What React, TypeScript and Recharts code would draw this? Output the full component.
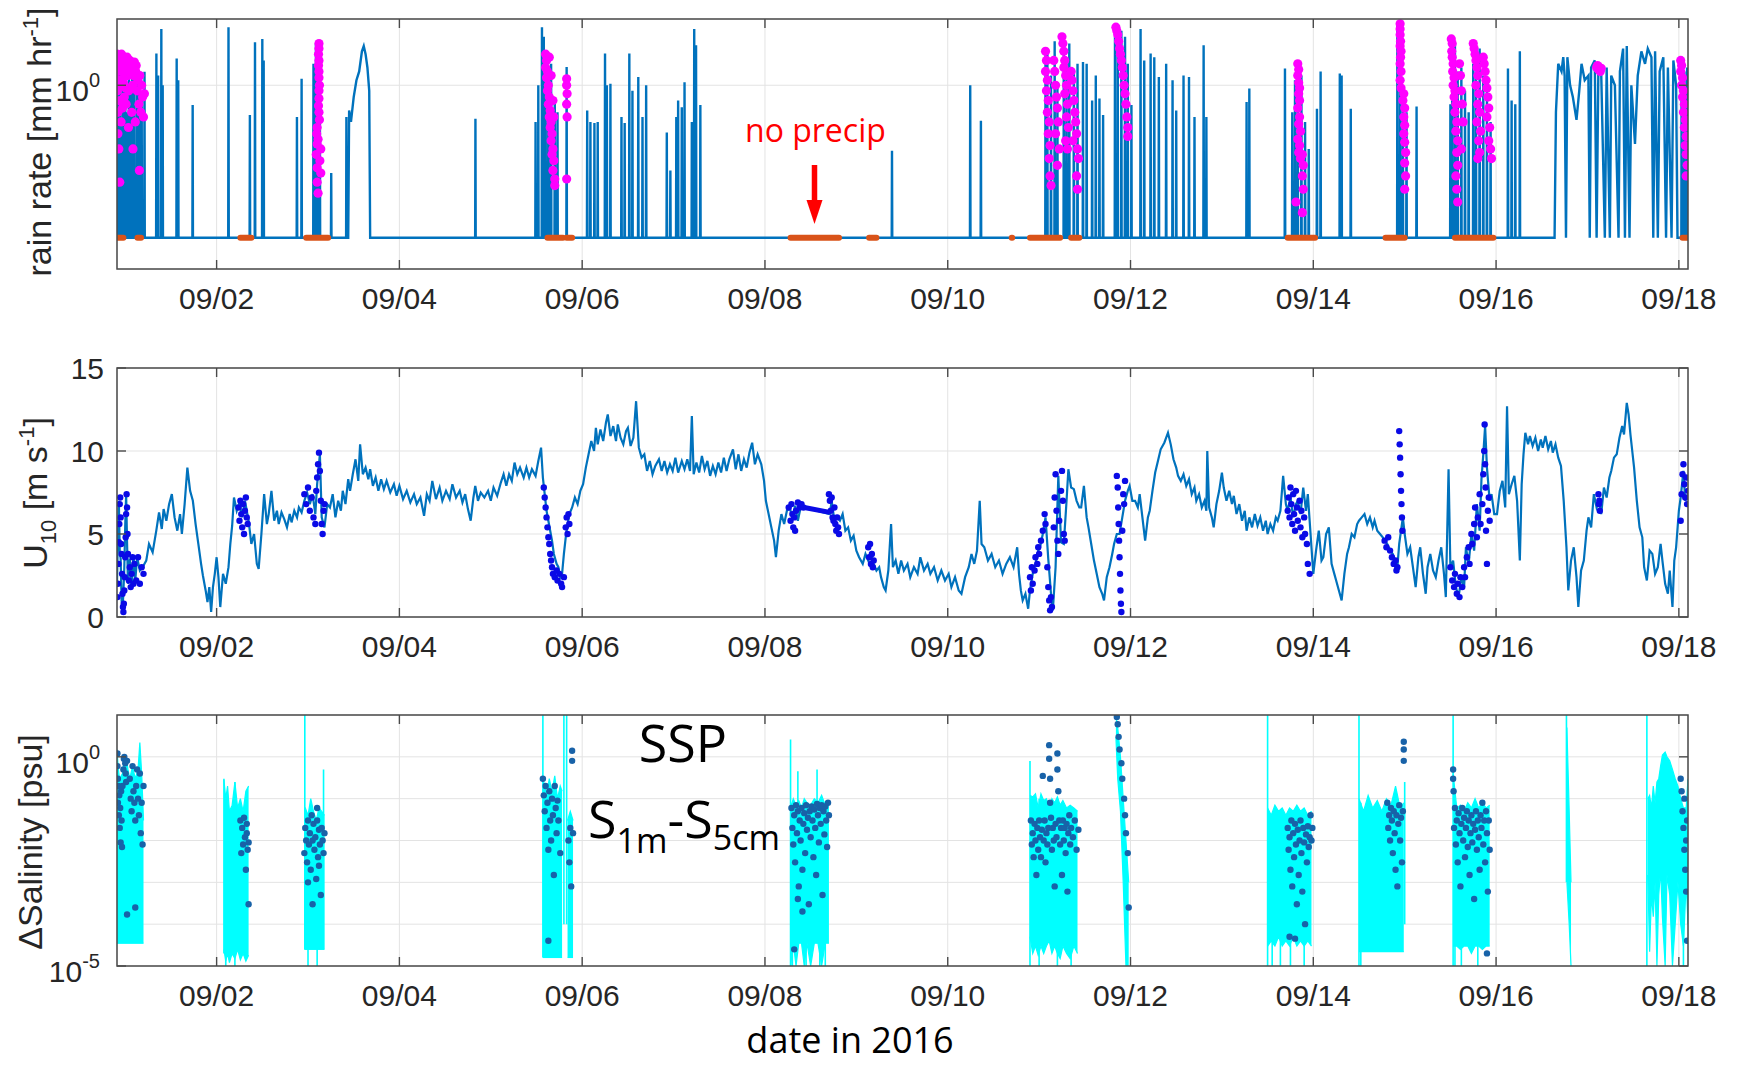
import React from 'react';
import { ComposedChart, Line, Scatter, Area, XAxis, YAxis, CartesianGrid } from 'recharts';

// page / panel geometry (px)
const W = 1737;
const H = 1066;
const PLOT_LEFT = 117;
const PLOT_RIGHT = 1688;
const X_AXIS_H = 50;

const rainGeom = { top: 0, plotTop: 19, plotBottom: 269 };
const windGeom = { top: 340, plotTop: 368, plotBottom: 617 };
const salGeom = { top: 690, plotTop: 715, plotBottom: 966 };

const AXIS = '#4a4a4a';
const GRID = '#e3e3e3';
const TEXT = '#262626';
const LINE_BLUE = '#0072BD';
const NOPRECIP_ORANGE = '#D95319';
const MAGENTA = '#FF00FF';
const DOT_BLUE = '#0a0ae6';
const CYAN = '#00FFFF';
const SAL_DOT = '#1862a8';
const FONT = '"Liberation Sans", Arial, Helvetica, sans-serif';
const NOTE_FONT = '"Open Sans", "Noto Sans", sans-serif';
const TICK_FS = 30;
const LABEL_FS = 34;

// time axis: days since 2016-09-01 00:00
const timeDomain = [-0.09, 17.1];
const dateTicks = [1, 3, 5, 7, 9, 11, 13, 15, 17];
const dateLabels = ['09/02', '09/04', '09/06', '09/08', '09/10', '09/12', '09/14', '09/16', '09/18'];

// ---------- panel 1: rain rate [mm/hr] ----------
const NO_RAIN = 0.056; // level the gauge reports when dry
const rainDomain = [0.031, 3.5];

// isolated rain spikes: [time, peak rate]
const rainSpikes: [number, number][] = [
  [-0.085, 1.8], [-0.075, 1.5], [-0.06, 1.7], [-0.045, 0.5], [-0.03, 1.6], [-0.015, 1.2], [0.0, 1.6],
  [0.016, 0.6], [0.04, 1.5], [0.06, 1.0], [0.075, 1.4], [0.1, 1.3], [0.13, 1.1], [0.154, 1.2], [0.18, 0.9],
  [0.211, 1.29], [0.341, 1.82], [0.36, 1.2], [0.395, 2.9], [0.41, 1.0], [0.563, 1.66], [0.58, 1.1],
  [0.738, 0.69], [1.13, 3.0], [1.364, 0.57], [1.42, 2.26], [1.5, 2.4], [1.515, 1.6], [1.879, 0.55],
  [1.93, 1.13], [2.06, 1.5], [2.087, 2.2], [2.11, 0.9], [2.13, 0.6], [2.254, 0.19], [2.42, 0.55],
  [3.832, 0.53],
  [4.49, 0.5], [4.52, 1.0], [4.56, 3.0], [4.58, 2.5], [4.6, 1.7], [4.63, 1.2], [4.66, 1.5], [4.7, 0.8],
  [4.73, 0.6], [4.83, 1.41],
  [5.055, 0.62], [5.09, 0.5], [5.134, 0.49], [5.17, 0.5], [5.25, 1.82], [5.27, 1.0], [5.309, 1.03],
  [5.43, 0.55], [5.465, 0.49], [5.516, 1.82], [5.55, 0.9], [5.614, 1.17], [5.66, 0.55], [5.7, 1.0],
  [5.926, 0.41], [5.965, 0.2], [6.03, 0.55], [6.05, 0.75], [6.09, 0.66], [6.12, 1.06], [6.2, 0.5],
  [6.226, 2.9], [6.246, 2.13], [6.293, 0.69],
  [8.39, 0.29], [9.246, 1.0], [9.363, 0.51],
  [10.07, 1.9], [10.09, 1.94], [10.13, 1.2], [10.17, 2.3], [10.2, 1.0], [10.27, 2.4], [10.3, 1.5],
  [10.33, 2.2], [10.38, 1.35], [10.42, 1.5], [10.48, 1.55], [10.52, 1.5], [10.58, 0.75], [10.62, 1.2],
  [10.66, 0.78], [10.7, 0.57],
  [10.83, 2.5], [10.86, 3.1], [10.9, 2.8], [10.94, 2.5], [10.97, 1.5], [11.01, 0.69], [11.11, 2.9],
  [11.15, 1.6], [11.22, 1.82], [11.26, 1.7], [11.31, 1.17], [11.39, 1.5], [11.46, 1.1], [11.5, 0.62],
  [11.58, 1.2], [11.64, 1.17], [11.7, 0.55], [11.8, 2.13], [11.83, 0.55],
  [12.27, 0.73], [12.3, 0.94], [12.69, 1.37], [12.77, 0.6], [12.8, 1.1], [12.83, 1.3], [12.87, 1.2],
  [12.91, 0.5], [12.95, 0.3], [13.04, 0.64], [13.08, 1.3], [13.29, 1.25], [13.31, 1.2], [13.41, 0.64],
  [13.92, 3.2], [13.95, 2.0], [13.98, 1.0], [14.02, 0.6], [14.13, 0.67],
  [14.5, 0.7], [14.52, 1.2], [14.55, 2.2], [14.58, 1.3], [14.62, 1.4], [14.66, 0.9], [14.7, 0.6],
  [14.75, 1.5], [14.78, 1.3], [14.82, 2.0], [14.86, 1.2], [14.9, 0.9], [14.94, 0.5],
  [15.13, 1.37], [15.17, 0.75], [15.21, 0.7], [15.26, 1.9],
  [17.03, 1.5], [17.06, 1.3], [17.09, 1.4],
];

// longer rain events read point by point
const rainHump: [number, number][] = [
  [2.44, NO_RAIN], [2.45, 0.62], [2.47, 0.5], [2.5, 0.8], [2.53, 1.1], [2.56, 1.3], [2.59, 1.9],
  [2.61, 2.1], [2.63, 1.8], [2.65, 1.4], [2.67, 0.9], [2.68, NO_RAIN],
];
const rainLate: [number, number][] = [
  [15.64, NO_RAIN], [15.655, 0.6], [15.68, 1.5], [15.716, 1.3], [15.735, 1.7], [15.75, 1.2], [15.765, NO_RAIN],
  [15.78, 1.7], [15.81, 1.0], [15.84, 0.8], [15.88, 0.52], [15.91, 0.9], [15.935, 1.5], [15.97, 1.1],
  [16.01, 1.2], [16.025, NO_RAIN], [16.04, 1.4], [16.08, 1.6], [16.1, NO_RAIN], [16.12, 1.5], [16.15, 1.3],
  [16.19, NO_RAIN], [16.21, 1.4], [16.245, NO_RAIN], [16.26, 1.2], [16.3, 1.0], [16.34, NO_RAIN],
  [16.355, 1.3], [16.39, 2.0], [16.41, NO_RAIN], [16.43, 2.1], [16.46, NO_RAIN], [16.48, 1.0], [16.52, 0.33],
  [16.55, 1.2], [16.59, 1.9], [16.63, 1.5], [16.66, 2.0], [16.7, 1.7], [16.72, NO_RAIN], [16.74, 1.9],
  [16.77, NO_RAIN], [16.79, 1.3], [16.83, 1.7], [16.86, NO_RAIN], [16.88, 1.4], [16.92, NO_RAIN],
  [16.94, 1.6], [16.97, 1.0], [16.985, NO_RAIN],
];

// disdrometer rain (magenta dots)
const precipDots: [number, number][] = [
  [-0.09, 1.8], [-0.085, 1.3], [-0.085, 0.9], [-0.08, 0.6], [-0.08, 0.4], [-0.075, 1.6], [-0.07, 1.1],
  [-0.07, 0.3], [-0.065, 1.75], [-0.06, 0.75], [-0.06, 0.16], [-0.055, 1.4], [-0.05, 1.0], [-0.045, 0.5],
  [-0.04, 1.8], [-0.035, 1.3], [-0.03, 0.65], [-0.025, 1.5], [-0.02, 1.05], [-0.015, 1.7], [-0.01, 0.8],
  [-0.005, 1.2], [0.0, 1.6], [0.005, 0.95], [0.01, 0.7], [0.015, 1.4], [0.02, 1.7], [0.03, 1.2],
  [0.035, 0.45], [0.04, 0.9], [0.05, 1.6], [0.06, 1.3], [0.07, 0.6], [0.075, 1.5], [0.08, 1.0], [0.085, 0.3],
  [0.09, 1.2], [0.1, 1.55], [0.11, 0.5], [0.115, 1.3], [0.12, 1.45], [0.13, 0.9], [0.14, 1.1], [0.15, 0.7],
  [0.155, 0.2], [0.16, 1.2], [0.17, 0.6], [0.18, 1.0], [0.19, 0.8], [0.2, 0.55], [0.21, 0.85],
  [2.12, 2.2], [2.12, 2.0], [2.115, 1.8], [2.12, 1.6], [2.115, 1.45], [2.12, 1.3], [2.12, 1.15],
  [2.125, 1.0], [2.12, 0.9], [2.12, 0.78], [2.115, 0.68], [2.12, 0.6], [2.125, 0.52], [2.1, 0.45],
  [2.095, 0.4], [2.11, 0.36], [2.1, 0.33], [2.14, 0.3], [2.09, 0.27], [2.13, 0.24], [2.1, 0.21],
  [2.14, 0.19], [2.1, 0.16], [2.11, 0.13],
  [4.6, 1.8], [4.61, 1.6], [4.6, 1.4], [4.62, 1.3], [4.61, 1.15], [4.63, 1.0], [4.62, 0.9], [4.64, 0.8],
  [4.63, 0.7], [4.65, 0.62], [4.64, 0.55], [4.66, 0.5], [4.65, 0.45], [4.67, 0.4], [4.66, 0.35],
  [4.68, 0.3], [4.67, 0.27], [4.69, 0.24], [4.68, 0.2], [4.7, 0.17], [4.7, 0.15], [4.64, 1.7], [4.66, 1.2],
  [4.68, 0.75], [4.69, 0.55], [4.83, 1.13], [4.83, 1.0], [4.835, 0.85], [4.83, 0.7], [4.835, 0.55],
  [4.83, 0.17],
  [10.07, 1.9], [10.08, 1.6], [10.07, 1.3], [10.09, 1.1], [10.08, 0.9], [10.1, 0.75], [10.09, 0.6],
  [10.11, 0.5], [10.1, 0.4], [10.12, 0.32], [10.11, 0.25], [10.12, 0.18], [10.13, 0.15],
  [10.16, 1.6], [10.17, 1.3], [10.18, 1.0], [10.19, 0.8], [10.2, 0.65], [10.21, 0.5], [10.18, 0.4],
  [10.22, 0.3], [10.2, 0.22],
  [10.25, 2.5], [10.26, 2.2], [10.27, 1.9], [10.28, 1.6], [10.27, 1.4], [10.29, 1.2], [10.3, 1.0],
  [10.28, 0.85], [10.31, 0.7], [10.3, 0.55], [10.32, 0.45], [10.29, 0.35], [10.31, 0.3],
  [10.35, 1.3], [10.36, 1.1], [10.37, 0.9], [10.38, 0.75], [10.39, 0.6], [10.4, 0.5], [10.41, 0.4],
  [10.42, 0.3], [10.43, 0.25], [10.41, 0.18], [10.42, 0.14], [10.37, 0.35],
  [10.84, 3.0], [10.85, 2.8], [10.86, 2.6], [10.87, 2.3], [10.88, 2.0], [10.89, 1.8], [10.9, 1.6],
  [10.91, 1.4], [10.92, 1.2], [10.93, 1.0], [10.94, 0.85], [10.95, 0.7], [10.96, 0.55], [10.97, 0.45],
  [10.97, 0.38],
  [12.83, 1.5], [12.84, 1.35], [12.83, 1.2], [12.84, 1.05], [12.85, 0.95], [12.84, 0.85], [12.85, 0.75],
  [12.83, 0.65], [12.85, 0.55], [12.84, 0.48], [12.86, 0.42], [12.83, 0.36], [12.85, 0.32], [12.84, 0.28],
  [12.86, 0.25], [12.81, 0.11], [12.88, 0.27], [12.89, 0.22], [12.88, 0.18], [12.89, 0.14], [12.88, 0.09],
  [13.95, 3.2], [13.95, 2.9], [13.95, 2.6], [13.955, 2.3], [13.95, 2.1], [13.96, 1.9], [13.955, 1.7],
  [13.95, 1.5], [13.96, 1.3], [13.95, 1.1], [13.96, 0.95], [13.99, 0.85], [13.98, 0.75], [14.0, 0.65],
  [13.99, 0.55], [14.0, 0.47], [13.99, 0.4], [14.0, 0.34], [14.01, 0.28], [14.0, 0.23], [14.01, 0.18],
  [14.0, 0.14],
  [14.51, 2.4], [14.52, 2.2], [14.515, 1.9], [14.52, 1.7], [14.53, 1.5], [14.525, 1.3], [14.54, 1.15],
  [14.53, 1.0], [14.55, 0.9], [14.54, 0.8], [14.56, 0.7], [14.55, 0.6], [14.57, 0.5], [14.56, 0.42],
  [14.58, 0.35], [14.57, 0.28], [14.58, 0.22], [14.56, 0.18], [14.57, 0.14], [14.58, 0.11], [14.6, 1.5],
  [14.61, 1.2], [14.62, 0.9], [14.63, 0.7], [14.64, 0.5], [14.62, 0.3],
  [14.75, 2.2], [14.76, 2.0], [14.77, 1.8], [14.78, 1.6], [14.79, 1.4], [14.8, 1.2], [14.78, 1.0],
  [14.81, 0.85], [14.8, 0.7], [14.82, 0.6], [14.79, 0.5], [14.83, 0.42], [14.81, 0.35], [14.82, 0.28],
  [14.8, 0.25], [14.86, 1.7], [14.87, 1.5], [14.88, 1.3], [14.89, 1.1], [14.9, 0.95], [14.91, 0.8],
  [14.92, 0.65], [14.9, 0.55], [14.93, 0.45], [14.92, 0.35], [14.94, 0.3], [14.95, 0.25],
  [16.1, 1.4], [16.11, 1.45], [16.12, 1.35], [16.13, 1.4], [16.14, 1.3], [16.15, 1.38],
  [17.02, 1.6], [17.03, 1.45], [17.02, 1.3], [17.04, 1.15], [17.03, 1.0], [17.05, 0.9], [17.04, 0.8],
  [17.06, 0.7], [17.05, 0.6], [17.07, 0.52], [17.06, 0.45], [17.08, 0.38], [17.07, 0.32], [17.08, 0.27],
  [17.09, 0.22], [17.08, 0.18],
];

// gauge on, no precipitation (orange): [start, end]
const noPrecipSpans: [number, number][] = [
  [-0.09, -0.02], [0.134, 0.173], [1.26, 1.38], [1.98, 2.22], [4.62, 4.79], [4.83, 4.89], [7.28, 7.81],
  [8.14, 8.22], [9.7, 9.705], [9.9, 10.23], [10.35, 10.44], [12.72, 13.02], [13.79, 14.0], [14.55, 14.97],
  [17.04, 17.1],
];

// ---------- panel 2: U10 [m/s] ----------
const windLine: [number, number][] = [
  [-0.09, 2.0], [-0.08, 5.0], [-0.07, 7.0], [-0.06, 4.0], [-0.05, 3.5], [-0.04, 1.0], [-0.03, 0.4],
  [-0.02, 1.5], [-0.01, 3.0], [0.0, 5.5], [0.01, 7.4], [0.02, 4.5], [0.03, 2.0], [0.05, 3.5], [0.07, 1.8],
  [0.09, 3.7], [0.11, 2.2], [0.13, 3.6], [0.16, 2.8], [0.19, 3.0], [0.23, 3.4], [0.26, 4.4], [0.3, 3.9],
  [0.34, 5.2], [0.37, 6.3], [0.4, 5.3], [0.42, 6.5], [0.45, 5.8], [0.48, 6.8], [0.51, 7.4], [0.54, 6.0],
  [0.57, 5.2], [0.6, 6.2], [0.62, 5.0], [0.65, 6.8], [0.68, 9.0], [0.71, 7.6], [0.74, 7.0], [0.77, 5.6],
  [0.8, 4.4], [0.83, 3.2], [0.85, 2.5], [0.88, 1.6], [0.9, 0.9], [0.92, 1.8], [0.94, 0.3], [0.96, 1.8],
  [0.98, 2.6], [1.0, 3.6], [1.02, 2.4], [1.04, 0.6], [1.07, 2.6], [1.1, 2.0], [1.13, 3.0], [1.15, 4.4],
  [1.17, 5.5], [1.19, 7.2], [1.22, 6.4], [1.25, 6.9], [1.28, 6.0], [1.31, 7.0], [1.35, 5.8], [1.38, 4.4],
  [1.41, 5.0], [1.44, 3.2], [1.46, 2.9], [1.49, 5.0], [1.52, 7.4], [1.55, 5.6], [1.57, 6.2], [1.6, 7.6],
  [1.63, 5.8], [1.66, 6.4], [1.68, 5.6], [1.71, 6.3], [1.74, 5.9], [1.77, 5.4], [1.8, 6.2], [1.82, 5.7],
  [1.85, 6.4], [1.88, 6.0], [1.9, 6.6], [1.93, 6.3], [1.96, 7.0], [1.99, 7.5], [2.02, 6.8], [2.05, 7.4],
  [2.08, 6.2], [2.1, 8.0], [2.13, 9.8], [2.15, 6.0], [2.18, 5.4], [2.21, 6.8], [2.24, 6.6], [2.27, 7.4],
  [2.3, 6.0], [2.33, 7.0], [2.36, 6.4], [2.38, 7.6], [2.41, 6.8], [2.44, 8.3], [2.46, 7.6], [2.49, 8.6],
  [2.52, 9.5], [2.55, 8.2], [2.57, 10.4], [2.6, 8.6], [2.63, 9.0], [2.66, 8.3], [2.68, 8.9], [2.71, 7.9],
  [2.74, 8.4], [2.77, 7.6], [2.8, 8.3], [2.83, 7.7], [2.86, 8.2], [2.9, 7.5], [2.94, 8.0], [2.97, 7.3],
  [3.0, 7.9], [3.04, 7.1], [3.08, 7.6], [3.12, 6.9], [3.16, 7.4], [3.19, 6.8], [3.23, 7.2], [3.27, 6.1],
  [3.3, 7.4], [3.33, 7.0], [3.36, 8.2], [3.4, 7.1], [3.44, 7.8], [3.47, 7.0], [3.51, 7.6], [3.55, 7.1],
  [3.58, 8.0], [3.62, 7.2], [3.66, 7.6], [3.69, 6.9], [3.72, 7.4], [3.75, 6.5], [3.78, 5.8], [3.81, 7.2],
  [3.83, 7.9], [3.86, 7.0], [3.89, 7.5], [3.93, 7.2], [3.97, 7.6], [4.0, 7.0], [4.03, 7.8], [4.07, 7.3],
  [4.11, 8.1], [4.14, 8.6], [4.17, 7.9], [4.2, 8.6], [4.23, 8.2], [4.26, 9.3], [4.29, 8.6], [4.32, 9.0],
  [4.36, 8.4], [4.39, 9.0], [4.42, 8.4], [4.45, 8.9], [4.49, 8.5], [4.52, 9.4], [4.55, 10.2], [4.57, 8.4],
  [4.59, 7.4], [4.61, 6.4], [4.63, 5.8], [4.65, 5.2], [4.67, 4.6], [4.69, 3.8], [4.72, 3.2], [4.74, 3.0],
  [4.76, 2.4], [4.78, 2.6], [4.8, 3.8], [4.82, 4.8], [4.84, 5.6], [4.86, 6.2], [4.89, 6.6], [4.92, 7.2],
  [4.95, 6.8], [4.98, 7.6], [5.01, 8.0], [5.04, 9.0], [5.07, 9.8], [5.1, 10.6], [5.13, 10.0], [5.15, 11.4],
  [5.17, 10.4], [5.2, 11.3], [5.23, 10.6], [5.26, 11.7], [5.28, 12.2], [5.31, 10.9], [5.34, 11.5],
  [5.37, 10.6], [5.39, 11.6], [5.42, 10.8], [5.45, 10.4], [5.48, 11.2], [5.5, 11.4], [5.53, 10.3],
  [5.56, 10.8], [5.59, 13.0], [5.62, 10.2], [5.65, 9.6], [5.68, 9.8], [5.71, 8.8], [5.74, 9.4], [5.77, 8.6],
  [5.8, 9.1], [5.84, 9.5], [5.87, 8.8], [5.9, 9.4], [5.93, 8.7], [5.96, 9.2], [5.99, 8.8], [6.02, 9.6],
  [6.05, 8.7], [6.09, 9.4], [6.12, 8.9], [6.15, 9.5], [6.18, 8.8], [6.2, 12.1], [6.22, 8.6], [6.25, 9.3],
  [6.28, 8.7], [6.31, 9.7], [6.34, 8.9], [6.37, 9.4], [6.4, 8.5], [6.43, 9.1], [6.46, 8.6], [6.49, 9.3],
  [6.52, 8.7], [6.55, 9.6], [6.58, 8.8], [6.61, 9.5], [6.65, 10.1], [6.68, 8.9], [6.71, 9.8], [6.74, 8.8],
  [6.77, 9.5], [6.8, 9.0], [6.83, 9.9], [6.86, 10.5], [6.89, 9.2], [6.92, 9.8], [6.96, 9.2], [6.99, 8.2],
  [7.01, 7.0], [7.04, 6.2], [7.07, 5.4], [7.1, 4.6], [7.12, 3.6], [7.15, 5.2], [7.18, 6.2], [7.21, 5.6],
  [7.24, 6.4], [7.27, 6.6], [7.3, 6.0], [7.33, 6.7], [7.36, 5.8], [7.39, 6.6], [7.43, 6.6], [7.71, 6.2],
  [7.73, 7.0], [7.76, 5.8], [7.79, 6.0], [7.82, 5.8], [7.85, 6.2], [7.88, 5.2], [7.91, 5.4], [7.94, 4.6],
  [7.97, 4.9], [8.0, 4.0], [8.03, 3.6], [8.07, 3.2], [8.1, 3.8], [8.13, 3.4], [8.16, 3.8], [8.19, 3.2],
  [8.22, 2.8], [8.25, 3.0], [8.27, 2.4], [8.3, 1.8], [8.32, 1.6], [8.35, 2.8], [8.38, 5.6], [8.4, 3.0],
  [8.43, 3.4], [8.46, 2.6], [8.49, 3.4], [8.52, 2.8], [8.56, 3.2], [8.59, 2.4], [8.63, 3.0], [8.67, 2.6],
  [8.7, 3.6], [8.74, 2.8], [8.78, 3.2], [8.81, 2.6], [8.85, 3.0], [8.89, 2.2], [8.93, 2.8], [8.97, 2.2],
  [9.01, 2.6], [9.04, 1.8], [9.08, 2.4], [9.12, 1.6], [9.15, 1.4], [9.19, 2.4], [9.23, 3.0], [9.26, 3.8],
  [9.29, 3.2], [9.32, 4.0], [9.35, 7.0], [9.37, 4.4], [9.4, 4.2], [9.44, 3.4], [9.48, 3.8], [9.52, 3.0],
  [9.56, 3.4], [9.6, 2.6], [9.64, 3.2], [9.68, 3.6], [9.72, 3.0], [9.76, 4.2], [9.78, 2.6], [9.8, 1.6],
  [9.82, 1.0], [9.85, 1.4], [9.88, 0.5], [9.9, 1.6], [9.93, 2.6], [9.96, 3.2], [9.99, 4.0], [10.01, 4.2],
  [10.04, 5.0], [10.07, 6.0], [10.1, 3.5], [10.13, 1.4], [10.15, 0.4], [10.18, 3.0], [10.21, 8.5],
  [10.24, 4.5], [10.27, 4.4], [10.3, 7.0], [10.32, 8.9], [10.35, 7.8], [10.38, 7.7], [10.41, 7.0],
  [10.44, 6.6], [10.46, 6.6], [10.49, 7.9], [10.52, 6.0], [10.54, 5.4], [10.57, 4.4], [10.6, 3.4],
  [10.63, 2.6], [10.66, 1.8], [10.69, 1.4], [10.71, 1.0], [10.74, 2.4], [10.77, 3.0], [10.8, 3.8],
  [10.82, 4.4], [10.85, 5.0], [10.88, 5.0], [10.91, 6.0], [10.94, 7.0], [10.97, 7.6], [10.99, 7.9],
  [11.02, 7.0], [11.05, 7.0], [11.08, 6.6], [11.1, 7.4], [11.13, 6.0], [11.16, 4.6], [11.19, 6.0],
  [11.21, 6.4], [11.24, 7.6], [11.27, 8.7], [11.3, 9.4], [11.33, 10.1], [11.37, 10.5], [11.41, 11.1],
  [11.44, 10.4], [11.47, 9.5], [11.5, 9.0], [11.52, 8.5], [11.55, 8.2], [11.58, 8.6], [11.61, 7.9],
  [11.64, 8.3], [11.67, 7.4], [11.7, 7.8], [11.72, 7.0], [11.75, 7.4], [11.78, 6.6], [11.81, 7.0],
  [11.83, 6.4], [11.84, 10.0], [11.86, 6.6], [11.89, 6.0], [11.91, 5.4], [11.94, 6.8], [11.97, 7.6],
  [12.0, 8.7], [12.02, 7.8], [12.05, 7.0], [12.08, 7.6], [12.11, 6.8], [12.13, 7.3], [12.16, 6.2],
  [12.19, 6.8], [12.22, 5.8], [12.25, 6.4], [12.27, 5.2], [12.3, 6.0], [12.33, 5.4], [12.36, 6.2],
  [12.39, 5.5], [12.42, 6.0], [12.45, 5.2], [12.48, 5.8], [12.5, 5.0], [12.53, 5.6], [12.56, 5.2],
  [12.59, 6.0], [12.61, 5.8], [12.64, 6.4], [12.67, 8.5], [12.7, 6.8], [12.72, 6.4], [12.75, 7.2],
  [12.78, 6.0], [12.81, 6.8], [12.83, 7.0], [12.86, 6.2], [12.89, 7.8], [12.92, 6.4], [12.94, 7.4],
  [12.97, 5.0], [13.0, 2.6], [13.03, 4.0], [13.06, 5.2], [13.09, 3.4], [13.11, 3.6], [13.14, 5.0],
  [13.17, 5.4], [13.2, 3.2], [13.23, 2.6], [13.25, 2.2], [13.28, 1.6], [13.31, 1.0], [13.34, 2.6],
  [13.37, 3.8], [13.39, 4.2], [13.42, 5.0], [13.45, 4.8], [13.48, 5.6], [13.5, 5.8], [13.53, 6.0],
  [13.56, 6.2], [13.59, 5.6], [13.62, 6.0], [13.65, 5.4], [13.67, 5.8], [13.7, 5.2], [13.73, 5.0],
  [13.76, 4.8], [13.78, 4.6], [13.81, 4.4], [13.84, 4.0], [13.87, 3.8], [13.9, 3.2], [13.92, 3.0],
  [13.94, 4.4], [13.96, 5.2], [13.98, 6.0], [14.0, 5.0], [14.03, 3.8], [14.06, 4.2], [14.09, 3.0],
  [14.12, 1.8], [14.15, 3.6], [14.17, 4.2], [14.2, 2.6], [14.23, 1.4], [14.25, 3.0], [14.28, 3.8],
  [14.31, 2.8], [14.34, 2.4], [14.37, 3.4], [14.4, 4.2], [14.43, 2.6], [14.45, 1.2], [14.48, 8.9],
  [14.5, 3.0], [14.53, 3.4], [14.56, 1.8], [14.59, 1.2], [14.62, 2.4], [14.65, 1.8], [14.67, 4.2],
  [14.7, 3.2], [14.73, 5.0], [14.76, 4.0], [14.79, 6.8], [14.82, 5.2], [14.84, 8.3], [14.86, 9.8],
  [14.88, 11.5], [14.9, 9.0], [14.93, 7.0], [14.95, 7.4], [14.98, 6.2], [15.01, 6.2], [15.04, 7.6],
  [15.07, 8.2], [15.1, 6.6], [15.12, 12.7], [15.14, 7.4], [15.17, 8.0], [15.2, 8.5], [15.23, 7.0],
  [15.26, 3.4], [15.28, 8.0], [15.3, 9.8], [15.32, 11.1], [15.35, 10.4], [15.37, 10.9], [15.4, 10.3],
  [15.43, 10.8], [15.46, 10.0], [15.49, 10.7], [15.51, 10.2], [15.54, 10.9], [15.57, 10.1], [15.6, 10.6],
  [15.62, 9.9], [15.65, 10.4], [15.68, 9.6], [15.71, 9.1], [15.74, 7.0], [15.77, 4.2], [15.79, 1.6],
  [15.82, 3.4], [15.85, 4.2], [15.88, 2.4], [15.9, 0.6], [15.93, 2.8], [15.96, 3.4], [15.99, 5.2],
  [16.01, 6.0], [16.04, 5.4], [16.07, 7.4], [16.1, 6.6], [16.13, 7.0], [16.15, 6.2], [16.18, 7.8],
  [16.21, 7.2], [16.24, 8.4], [16.26, 8.8], [16.29, 9.6], [16.32, 9.8], [16.35, 10.8], [16.38, 11.5],
  [16.4, 11.0], [16.43, 12.9], [16.45, 12.2], [16.47, 11.0], [16.49, 10.0], [16.51, 9.0], [16.54, 7.0],
  [16.57, 5.4], [16.6, 4.8], [16.62, 3.0], [16.65, 2.2], [16.68, 4.0], [16.71, 3.8], [16.74, 2.6],
  [16.77, 3.0], [16.8, 4.4], [16.82, 3.4], [16.85, 2.0], [16.88, 1.4], [16.9, 2.8], [16.93, 0.6],
  [16.95, 3.4], [16.97, 4.2], [17.0, 6.4], [17.02, 7.2], [17.05, 8.8], [17.07, 7.0], [17.1, 7.4],
];

// wind during SSP profiles (blue dots)
const windDots: [number, number][] = [
  [-0.085, 1.2], [-0.08, 2.0], [-0.075, 3.2], [-0.07, 4.5], [-0.065, 5.6], [-0.06, 6.8], [-0.055, 7.2],
  [-0.05, 6.0], [-0.045, 4.4], [-0.04, 3.8], [-0.035, 2.6], [-0.03, 1.4], [-0.025, 0.6], [-0.02, 0.3],
  [-0.015, 0.8], [-0.01, 1.6], [-0.005, 2.4], [0.0, 3.6], [0.005, 4.8], [0.01, 6.2], [0.015, 7.4],
  [0.02, 6.6], [0.025, 5.0], [0.03, 3.8], [0.04, 2.2], [0.05, 3.0], [0.06, 1.8], [0.07, 2.6], [0.08, 3.6],
  [0.09, 2.0], [0.1, 3.2], [0.12, 2.2], [0.14, 3.6], [0.16, 2.0], [0.18, 3.0], [0.2, 2.6],
  [1.24, 6.6], [1.25, 5.8], [1.26, 7.0], [1.27, 6.2], [1.28, 5.4], [1.29, 6.8], [1.3, 5.0], [1.31, 6.4],
  [1.32, 7.2], [1.33, 6.0], [1.34, 5.6],
  [1.96, 7.4], [1.98, 6.8], [2.0, 7.8], [2.02, 6.4], [2.04, 7.2], [2.06, 6.0], [2.08, 5.6], [2.09, 7.6],
  [2.1, 8.4], [2.11, 9.2], [2.12, 9.9], [2.13, 8.8], [2.14, 7.0], [2.15, 5.6], [2.16, 5.0], [2.17, 6.4],
  [2.18, 6.8],
  [4.58, 7.8], [4.59, 7.2], [4.6, 6.6], [4.61, 6.0], [4.62, 5.4], [4.63, 4.8], [4.64, 4.4], [4.65, 3.8],
  [4.66, 3.4], [4.67, 3.0], [4.68, 2.6], [4.7, 2.4], [4.72, 2.8], [4.73, 2.2], [4.75, 2.6], [4.77, 2.0],
  [4.78, 1.8], [4.8, 2.4], [4.82, 5.4], [4.83, 6.0], [4.84, 5.0], [4.85, 6.2], [4.86, 5.6],
  [7.26, 6.6], [7.28, 5.8], [7.29, 6.8], [7.3, 6.2], [7.31, 5.4], [7.32, 6.0], [7.33, 5.2], [7.34, 6.4],
  [7.36, 6.9], [7.38, 6.6], [7.4, 6.8], [7.42, 6.6],
  [7.7, 7.4], [7.71, 7.0], [7.72, 6.4], [7.73, 7.2], [7.74, 6.0], [7.75, 5.8], [7.76, 6.6], [7.77, 5.6],
  [7.78, 5.2], [7.79, 6.0], [7.8, 5.4], [7.81, 5.0],
  [8.13, 4.2], [8.14, 3.6], [8.15, 4.4], [8.16, 3.2], [8.17, 3.8], [8.18, 3.0], [8.19, 3.4],
  [9.9, 2.4], [9.91, 1.6], [9.92, 3.0], [9.93, 2.0], [9.95, 2.8], [9.96, 3.6], [9.98, 3.2], [9.99, 4.2],
  [10.0, 3.8], [10.02, 4.6], [10.04, 5.2], [10.06, 6.2], [10.07, 5.6], [10.09, 3.0], [10.1, 1.8],
  [10.11, 1.0], [10.12, 0.4], [10.13, 1.2], [10.14, 0.6], [10.16, 5.4], [10.17, 7.2], [10.18, 8.6],
  [10.19, 6.4], [10.2, 4.6], [10.21, 3.8], [10.22, 5.8], [10.24, 7.6], [10.25, 8.8], [10.26, 7.0],
  [10.27, 5.0], [10.28, 4.6],
  [10.85, 8.5], [10.86, 7.8], [10.865, 6.6], [10.87, 5.6], [10.875, 4.6], [10.88, 3.6], [10.885, 2.6],
  [10.89, 1.6], [10.895, 0.8], [10.9, 0.3], [10.91, 5.2], [10.92, 7.4], [10.93, 6.8], [10.94, 8.2],
  [12.72, 6.4], [12.73, 7.2], [12.74, 6.0], [12.75, 7.8], [12.76, 6.8], [12.77, 5.6], [12.78, 7.4],
  [12.79, 6.2], [12.8, 5.2], [12.81, 7.6], [12.82, 6.6], [12.83, 5.8], [12.85, 7.0], [12.86, 5.4],
  [12.87, 6.4], [12.88, 4.8], [12.9, 6.0], [12.91, 5.0], [12.93, 4.4], [12.94, 3.2], [12.96, 2.6],
  [13.78, 4.6], [13.8, 4.2], [13.82, 4.8], [13.84, 4.0], [13.86, 3.6], [13.88, 3.2], [13.9, 3.4],
  [13.91, 2.8], [13.92, 3.0], [13.94, 11.2], [13.945, 10.4], [13.95, 9.6], [13.955, 8.6], [13.96, 7.6],
  [13.965, 6.8], [13.97, 6.0], [13.975, 5.2],
  [14.5, 3.0], [14.52, 2.2], [14.54, 1.8], [14.55, 2.6], [14.57, 1.4], [14.58, 2.0], [14.6, 1.2],
  [14.61, 2.4], [14.63, 1.8], [14.65, 3.0], [14.66, 2.4], [14.68, 3.6], [14.7, 4.2], [14.71, 3.2],
  [14.73, 5.0], [14.74, 4.4], [14.76, 5.6], [14.77, 6.6], [14.79, 4.8], [14.8, 6.0], [14.82, 7.4],
  [14.83, 5.6], [14.85, 6.8], [14.86, 8.6], [14.87, 10.0], [14.875, 11.6], [14.88, 9.2], [14.885, 7.8],
  [14.89, 5.2], [14.9, 3.2], [14.91, 6.4], [14.92, 7.2], [14.93, 5.8],
  [16.12, 7.4], [16.125, 6.8], [16.13, 7.0], [16.135, 6.4],
  [17.02, 5.8], [17.03, 7.4], [17.04, 8.6], [17.05, 9.2], [17.06, 8.0], [17.07, 7.2], [17.08, 8.4],
  [17.09, 6.8], [17.1, 7.6],
];
// stretch of continuous profiler samples drawn as a thick line
const windDotRun: [number, number][] = [[7.43, 6.6], [7.71, 6.3]];

// ---------- panel 3: delta salinity [psu] ----------
const salDomain = [1e-5, 10];
const salTicks = [1e-5, 1e-4, 1e-3, 1e-2, 1e-1, 1, 10];

// cyan envelope of the 1 m - 5 cm difference: each block is [time, low, high]
const salBlocks: [number, number, number][][] = [
  [[-0.09, 3.5e-5, 1.5], [-0.075, 3.5e-5, 0.5], [-0.06, 3.5e-5, 0.28], [-0.045, 3.5e-5, 0.35],
    [-0.03, 3.5e-5, 0.4], [-0.01, 3.5e-5, 0.9], [0.01, 3.5e-5, 1.0], [0.03, 3.5e-5, 0.5], [0.05, 3.5e-5, 0.3],
    [0.08, 3.5e-5, 0.6], [0.11, 3.5e-5, 0.3], [0.14, 3.5e-5, 0.5], [0.16, 3.5e-5, 2.2], [0.18, 3.5e-5, 0.4],
    [0.2, 3.5e-5, 0.03]],
  [[1.08, 2.5e-5, 0.28], [1.1, 1.3e-5, 0.1], [1.12, 2e-5, 0.2], [1.14, 1.2e-5, 0.05], [1.17, 2e-5, 0.07],
    [1.2, 1.5e-5, 0.25], [1.23, 2.5e-5, 0.06], [1.26, 1.4e-5, 0.1], [1.29, 2e-5, 0.05], [1.32, 1.3e-5, 0.15],
    [1.35, 1.8e-5, 0.2]],
  [[1.96, 2.5e-5, 0.06], [1.97, 2.5e-5, 0.06], [2.0, 2.5e-5, 0.04], [2.03, 2.5e-5, 0.1], [2.06, 2.5e-5, 0.05],
    [2.09, 2.5e-5, 0.03], [2.12, 2.5e-5, 0.06], [2.15, 2.5e-5, 0.05], [2.18, 2.5e-5, 0.04]],
  [[4.57, 1.6e-5, 0.3], [4.58, 1.6e-5, 0.25], [4.61, 1.6e-5, 0.12], [4.64, 1.6e-5, 0.3], [4.67, 1.6e-5, 0.15],
    [4.7, 1.6e-5, 0.35], [4.73, 1.6e-5, 0.1], [4.76, 1.6e-5, 0.2], [4.78, 1.6e-5, 0.15]],
  [[4.84, 1.6e-5, 0.03], [4.87, 1.6e-5, 0.05], [4.9, 1.6e-5, 0.03]],
  [[7.28, 1e-5, 0.06], [7.31, 3.5e-5, 0.1], [7.34, 1e-5, 0.07], [7.37, 3.5e-5, 0.09], [7.4, 3.5e-5, 0.06],
    [7.43, 1e-5, 0.1], [7.46, 3.5e-5, 0.08], [7.5, 1e-5, 0.07], [7.54, 3.5e-5, 0.1], [7.58, 3.5e-5, 0.08],
    [7.62, 1e-5, 0.12], [7.66, 3.5e-5, 0.07], [7.7, 3.5e-5, 0.09]],
  [[9.9, 5e-5, 0.12], [9.93, 2e-5, 0.11], [9.96, 3e-5, 0.13], [9.99, 1.8e-5, 0.06], [10.02, 3e-5, 0.13],
    [10.05, 2e-5, 0.09], [10.08, 3e-5, 0.1], [10.11, 4e-5, 0.06], [10.14, 2e-5, 0.1], [10.17, 3e-5, 0.08],
    [10.2, 2e-5, 0.11], [10.23, 1.5e-5, 0.07], [10.26, 3e-5, 0.09], [10.3, 2e-5, 0.06], [10.34, 1.5e-5, 0.07],
    [10.38, 3e-5, 0.06], [10.42, 2e-5, 0.05]],
  [[10.84, 3.0, 10], [10.86, 0.3, 5], [10.89, 0.05, 1], [10.92, 1e-3, 0.1], [10.95, 1e-5, 1e-2],
    [10.98, 1e-5, 1e-3]],
  [[12.5, 3e-5, 0.06], [12.54, 4e-5, 0.04], [12.58, 3e-5, 0.07], [12.62, 5e-5, 0.05], [12.66, 3e-5, 0.06],
    [12.7, 4e-5, 0.04], [12.74, 3e-5, 0.06], [12.78, 5e-5, 0.05], [12.82, 3e-5, 0.07], [12.86, 4e-5, 0.05],
    [12.9, 3e-5, 0.06], [12.94, 4e-5, 0.04], [12.98, 3e-5, 0.05]],
  [[13.5, 2.2e-5, 0.1], [13.55, 2.2e-5, 0.05], [13.6, 2.2e-5, 0.12], [13.65, 2.2e-5, 0.06], [13.7, 2.2e-5, 0.09],
    [13.75, 2.2e-5, 0.05], [13.8, 2.2e-5, 0.1], [13.85, 2.2e-5, 0.07], [13.9, 2.2e-5, 0.2], [13.95, 2.2e-5, 0.06],
    [13.99, 2.2e-5, 0.08]],
  [[14.53, 3e-5, 0.4], [14.57, 3e-5, 0.06], [14.61, 2.5e-5, 0.07], [14.65, 3e-5, 0.05], [14.69, 3e-5, 0.08],
    [14.73, 2e-5, 0.06], [14.77, 3e-5, 0.1], [14.81, 3e-5, 0.06], [14.85, 2.5e-5, 0.08], [14.89, 3e-5, 0.06],
    [14.93, 3e-5, 0.07]],
  [[15.775, 1e-3, 5], [15.8, 1e-4, 0.05], [15.82, 1e-5, 1e-3]],
  [[16.66, 1.5e-3, 0.1], [16.68, 2.2e-5, 0.12], [16.7, 5e-4, 0.06], [16.72, 1.5e-4, 0.2], [16.74, 1e-3, 0.08],
    [16.76, 1e-5, 0.25], [16.78, 5e-4, 0.3], [16.8, 2e-3, 0.6], [16.82, 1.5e-4, 1.1], [16.85, 1e-5, 1.3],
    [16.87, 1.5e-3, 1.0], [16.9, 5e-4, 0.8], [16.93, 1e-5, 0.5], [16.96, 1e-4, 0.3], [16.99, 1e-3, 0.2],
    [17.02, 1e-4, 0.1], [17.05, 3e-5, 0.06], [17.08, 1e-3, 0.06], [17.1, 1e-4, 0.3]],
];

// thin cyan excursions: [time, low, high]
const salSpikes: [number, number, number][] = [
  [1.08, 2e-5, 0.3], [1.1, 1e-5, 0.1], [1.2, 1e-5, 0.25], [1.965, 2.5e-5, 10], [2.0, 1e-5, 0.04],
  [2.1, 1e-5, 0.03], [2.17, 2.5e-5, 0.5], [4.57, 1.6e-5, 10], [4.8, 1e-4, 10], [4.83, 1e-4, 10],
  [7.28, 1e-5, 2.6], [7.3, 1e-5, 0.08], [7.36, 3.5e-5, 0.45], [7.45, 1e-5, 0.08], [7.57, 3.5e-5, 0.5],
  [7.6, 1e-5, 0.09], [7.66, 1e-5, 0.06], [9.9, 1e-5, 0.8], [10.0, 1e-5, 0.1], [10.2, 1e-5, 0.1],
  [10.35, 1e-5, 0.06], [12.5, 1e-5, 10], [12.55, 1e-5, 0.03], [12.64, 1e-5, 0.04], [12.75, 1e-5, 0.05],
  [12.9, 1e-5, 0.04], [13.5, 1e-5, 10], [13.52, 1e-5, 0.08], [14.0, 1e-4, 0.25], [14.53, 1e-5, 10],
  [14.55, 1e-5, 0.05], [14.62, 1e-5, 0.05], [14.8, 1e-5, 0.06], [15.77, 1e-3, 10], [16.65, 1e-5, 10],
  [17.05, 1e-5, 0.05],
];

// profiler salinity differences (dark blue dots)
const salDots: [number, number][] = [
  [-0.085, 1.2], [-0.085, 0.6], [-0.08, 0.3], [-0.08, 0.08], [-0.075, 0.2], [-0.07, 0.04], [-0.065, 0.12],
  [-0.06, 0.02], [-0.055, 0.06], [-0.05, 0.009], [-0.045, 0.15], [-0.04, 0.03], [-0.035, 0.007],
  [-0.03, 0.2], [-0.02, 0.5], [-0.015, 0.9], [-0.01, 1.0], [0.0, 0.7], [0.005, 0.4], [0.01, 0.25],
  [0.02, 0.8], [0.02, 1.7e-4], [0.05, 0.3], [0.06, 0.1], [0.07, 0.05], [0.08, 0.6], [0.09, 0.15],
  [0.1, 0.08], [0.11, 0.03], [0.11, 2.5e-4], [0.12, 0.2], [0.13, 0.5], [0.14, 0.1], [0.15, 0.04],
  [0.16, 0.4], [0.17, 0.015], [0.18, 0.08], [0.19, 0.008], [0.2, 0.2],
  [1.26, 0.03], [1.27, 0.005], [1.28, 0.02], [1.29, 0.008], [1.3, 0.035], [1.31, 0.012], [1.32, 0.002],
  [1.33, 0.015], [1.34, 0.006], [1.35, 0.0003], [1.33, 0.025], [1.35, 0.009],
  [1.96, 0.005], [1.97, 0.02], [1.98, 0.01], [1.99, 0.003], [2.0, 0.03], [2.01, 0.008], [2.02, 0.015],
  [2.03, 0.002], [2.04, 0.04], [2.05, 0.01], [2.06, 0.025], [2.07, 0.006], [2.08, 0.012], [2.09, 0.0012],
  [2.1, 0.03], [2.11, 0.004], [2.12, 0.018], [2.13, 0.008], [2.14, 0.0005], [2.15, 0.02], [2.16, 0.01],
  [2.17, 0.005], [2.18, 0.015], [2.0, 0.001], [2.05, 0.0003], [2.1, 0.06], [2.12, 0.0025],
  [4.57, 0.3], [4.58, 0.12], [4.59, 0.05], [4.6, 0.2], [4.61, 0.02], [4.62, 0.08], [4.63, 0.006],
  [4.63, 4e-5], [4.64, 0.15], [4.65, 0.03], [4.66, 0.01], [4.67, 0.1], [4.68, 0.04], [4.69, 0.0015],
  [4.7, 0.2], [4.71, 0.06], [4.72, 0.015], [4.73, 0.09], [4.74, 0.03], [4.76, 0.005], [4.85, 0.01],
  [4.86, 0.003], [4.87, 0.02], [4.88, 0.0008], [4.89, 1.4], [4.89, 0.8], [4.9, 0.015],
  [7.29, 0.06], [7.3, 0.02], [7.31, 0.008], [7.32, 0.04], [7.32, 2.5e-5], [7.33, 0.003], [7.34, 0.07],
  [7.35, 0.015], [7.36, 0.05], [7.36, 0.0004], [7.37, 0.0008], [7.38, 0.03], [7.39, 0.01], [7.4, 0.06],
  [7.41, 0.002], [7.41, 0.0002], [7.42, 0.025], [7.43, 0.045], [7.44, 0.005], [7.45, 0.07], [7.46, 0.018],
  [7.47, 0.035], [7.48, 0.0003], [7.49, 0.05], [7.5, 0.012], [7.51, 0.065], [7.52, 0.03], [7.53, 0.004],
  [7.54, 0.055], [7.55, 0.02], [7.56, 0.0015], [7.57, 0.075], [7.58, 0.04], [7.59, 0.009], [7.6, 0.06],
  [7.61, 0.025], [7.62, 0.07], [7.63, 0.0005], [7.64, 0.05], [7.65, 0.014], [7.66, 0.065], [7.67, 0.03],
  [7.68, 0.007], [7.69, 0.08], [7.7, 0.04],
  [9.91, 0.03], [9.92, 0.008], [9.93, 0.015], [9.94, 0.004], [9.95, 0.025], [9.96, 0.01], [9.97, 0.0015],
  [9.98, 0.02], [9.99, 0.006], [10.0, 0.03], [10.01, 0.012], [10.02, 0.004], [10.03, 0.018], [10.04, 0.35],
  [10.05, 0.01], [10.06, 0.03], [10.07, 0.003], [10.08, 0.015], [10.09, 0.008], [10.1, 0.02], [10.11, 1.9],
  [10.11, 0.9], [10.12, 0.3], [10.12, 0.08], [10.13, 0.035], [10.14, 0.006], [10.15, 0.02], [10.16, 0.01],
  [10.17, 0.0008], [10.18, 0.025], [10.19, 0.012], [10.2, 1.2], [10.2, 0.5], [10.21, 0.15], [10.22, 0.03],
  [10.23, 0.008], [10.24, 0.02], [10.25, 0.0015], [10.26, 0.03], [10.27, 0.01], [10.28, 0.02],
  [10.29, 0.005], [10.3, 0.025], [10.31, 0.0006], [10.32, 0.015], [10.33, 0.04], [10.34, 0.008],
  [10.35, 0.02], [10.37, 0.012], [10.39, 0.03], [10.41, 0.006], [10.43, 0.018],
  [10.85, 9], [10.86, 6], [10.87, 3], [10.88, 1.5], [10.9, 0.7], [10.91, 0.3], [10.93, 0.1], [10.94, 0.04],
  [10.95, 0.015], [10.97, 0.005], [10.98, 2.5e-4],
  [12.72, 0.02], [12.73, 0.006], [12.74, 0.012], [12.74, 5e-5], [12.75, 0.002], [12.76, 0.03],
  [12.77, 0.0008], [12.78, 0.015], [12.79, 0.004], [12.8, 0.025], [12.8, 4.5e-5], [12.81, 0.008],
  [12.82, 0.0003], [12.83, 0.018], [12.84, 0.0015], [12.85, 0.01], [12.86, 0.03], [12.87, 0.005],
  [12.88, 0.0006], [12.89, 0.02], [12.9, 0.009], [12.91, 0.0001], [12.92, 0.014], [12.93, 0.003],
  [12.94, 0.022], [12.95, 0.007], [12.96, 0.012], [12.97, 0.04], [12.98, 0.01], [12.99, 0.02],
  [13.81, 0.08], [13.82, 0.02], [13.83, 0.04], [13.84, 0.01], [13.85, 0.06], [13.86, 0.03], [13.87, 0.005],
  [13.88, 0.05], [13.89, 0.015], [13.9, 0.002], [13.91, 0.04], [13.92, 0.0008], [13.93, 0.025],
  [13.94, 0.07], [13.95, 0.01], [13.96, 0.035], [13.97, 0.003], [13.98, 0.05], [13.99, 1.5], [13.99, 0.8],
  [13.99, 2.3],
  [14.53, 0.5], [14.53, 0.3], [14.535, 0.15], [14.54, 0.02], [14.55, 0.06], [14.56, 0.008], [14.57, 0.03],
  [14.58, 0.003], [14.59, 0.045], [14.6, 0.015], [14.61, 0.0008], [14.62, 0.025], [14.63, 0.06],
  [14.64, 0.01], [14.65, 0.035], [14.66, 0.004], [14.67, 0.02], [14.68, 0.05], [14.69, 0.007], [14.7, 0.03],
  [14.71, 0.0015], [14.72, 0.015], [14.73, 0.04], [14.74, 0.009], [14.75, 0.025], [14.76, 0.0004],
  [14.77, 0.018], [14.78, 0.05], [14.79, 0.006], [14.8, 0.03], [14.81, 0.012], [14.82, 0.002], [14.83, 0.04],
  [14.84, 0.02], [14.85, 0.08], [14.86, 0.008], [14.87, 0.03], [14.88, 0.003], [14.89, 0.05], [14.9, 0.015],
  [14.9, 2e-5], [14.91, 0.0006], [14.92, 0.03], [14.93, 0.006],
  [17.02, 0.3], [17.03, 0.15], [17.04, 0.05], [17.05, 0.02], [17.06, 0.006], [17.06, 0.1], [17.07, 0.002],
  [17.08, 0.0006], [17.08, 0.01], [17.09, 4e-5], [17.09, 0.03],
];

// ---------- tables for the library ----------
const toRows = (pts: [number, number][]) => pts.map(([t, v]) => ({ t, v }));

const rainRows = (() => {
  const events: { t: number; pts: [number, number][] }[] = [
    ...rainSpikes.map(([t, peak]) => ({
      t,
      pts: [[t - 0.003, NO_RAIN], [t, peak], [t + 0.003, NO_RAIN]] as [number, number][],
    })),
    { t: rainHump[0][0], pts: rainHump },
    { t: rainLate[0][0], pts: rainLate },
  ].sort((a, b) => a.t - b.t);
  const rows = [{ t: timeDomain[0], v: NO_RAIN }];
  events.forEach((e) => e.pts.forEach(([t, v]) => rows.push({ t, v })));
  rows.push({ t: timeDomain[1], v: NO_RAIN });
  return rows;
})();

const spikeRows = salSpikes.flatMap(([t, lo, hi]) => [
  { t, v: lo },
  { t, v: hi },
  { t, v: null as number | null },
]);

// ---------- axis ticks ----------
const dateTick = (plotH: number) => (props: any) => {
  const { x, y, payload } = props;
  const label = dateLabels[dateTicks.indexOf(payload.value)];
  return (
    <g>
      <line x1={x} x2={x} y1={y} y2={y - 9} stroke={AXIS} strokeWidth={1.4} />
      <line x1={x} x2={x} y1={y - plotH} y2={y - plotH + 9} stroke={AXIS} strokeWidth={1.4} />
      <text x={x} y={y + 40} textAnchor="middle" fontFamily={FONT} fontSize={TICK_FS} fill={TEXT}>
        {label}
      </text>
    </g>
  );
};

const powerTick = (labelled: number[]) => (props: any) => {
  const { x, y, payload } = props;
  const v = payload.value;
  if (!labelled.includes(v)) return <g />;
  const exp = Math.round(Math.log10(v));
  return (
    <g>
      <line x1={x} x2={x + 9} y1={y} y2={y} stroke={AXIS} strokeWidth={1.4} />
      <line x1={PLOT_RIGHT} x2={PLOT_RIGHT - 9} y1={y} y2={y} stroke={AXIS} strokeWidth={1.4} />
      <text x={x - 17} y={y + 16} textAnchor="end" fontFamily={FONT} fontSize={TICK_FS} fill={TEXT}>
        10
        <tspan dy={-14} fontSize={20}>
          {exp}
        </tspan>
      </text>
    </g>
  );
};

const windTick = (props: any) => {
  const { x, y, payload } = props;
  return (
    <g>
      <line x1={x} x2={x + 9} y1={y} y2={y} stroke={AXIS} strokeWidth={1.4} />
      <line x1={PLOT_RIGHT} x2={PLOT_RIGHT - 9} y1={y} y2={y} stroke={AXIS} strokeWidth={1.4} />
      <text x={x - 13} y={y + 11} textAnchor="end" fontFamily={FONT} fontSize={TICK_FS} fill={TEXT}>
        {payload.value}
      </text>
    </g>
  );
};

const dot = (r: number, color: string) => (p: any) => <circle cx={p.cx} cy={p.cy} r={r} fill={color} />;

type Geom = { top: number; plotTop: number; plotBottom: number };

function Panel({ g, children }: { g: Geom; children: React.ReactNode }) {
  return (
    <div style={{ position: 'absolute', left: 0, top: g.top }}>
      <ComposedChart
        width={W}
        height={g.plotBottom - g.top + X_AXIS_H}
        margin={{ top: g.plotTop - g.top, right: W - PLOT_RIGHT, bottom: 0, left: 0 }}
      >
        {children}
      </ComposedChart>
    </div>
  );
}

function xAxisFor(g: Geom) {
  return (
    <XAxis
      type="number"
      dataKey="t"
      domain={timeDomain}
      ticks={dateTicks}
      interval={0}
      allowDataOverflow
      tick={dateTick(g.plotBottom - g.plotTop)}
      tickLine={false}
      axisLine={false}
      tickSize={0}
      tickMargin={0}
      height={X_AXIS_H}
    />
  );
}

export default function App() {
  return (
    <div style={{ position: 'absolute', left: 0, top: 0, width: W, height: H, background: '#fff', overflow: 'hidden' }}>
      <Panel g={rainGeom}>
        <CartesianGrid stroke={GRID} strokeWidth={1} />
        {xAxisFor(rainGeom)}
        <YAxis
          type="number"
          scale="log"
          domain={rainDomain}
          ticks={[1]}
          interval={0}
          allowDataOverflow
          tick={powerTick([1])}
          tickLine={false}
          axisLine={false}
          tickSize={0}
          tickMargin={0}
          width={PLOT_LEFT}
        />
        <Line data={rainRows} dataKey="v" type="linear" stroke={LINE_BLUE} strokeWidth={2.4} dot={false} isAnimationActive={false} />
        {noPrecipSpans.map(([a, b], i) => (
          <Line
            key={`np${i}`}
            data={[{ t: a, v: NO_RAIN }, { t: b, v: NO_RAIN }]}
            dataKey="v"
            type="linear"
            stroke={NOPRECIP_ORANGE}
            strokeWidth={6}
            strokeLinecap="round"
            dot={false}
            isAnimationActive={false}
          />
        ))}
        <Scatter data={toRows(precipDots)} dataKey="v" fill={MAGENTA} shape={dot(4.6, MAGENTA)} isAnimationActive={false} />
      </Panel>

      <Panel g={windGeom}>
        <CartesianGrid stroke={GRID} strokeWidth={1} />
        {xAxisFor(windGeom)}
        <YAxis
          type="number"
          domain={[0, 15]}
          ticks={[0, 5, 10, 15]}
          interval={0}
          allowDataOverflow
          tick={windTick}
          tickLine={false}
          axisLine={false}
          tickSize={0}
          tickMargin={0}
          width={PLOT_LEFT}
        />
        <Line data={toRows(windLine)} dataKey="v" type="linear" stroke={LINE_BLUE} strokeWidth={2.2} dot={false} isAnimationActive={false} />
        <Line data={toRows(windDotRun)} dataKey="v" type="linear" stroke={DOT_BLUE} strokeWidth={5} dot={false} isAnimationActive={false} />
        <Scatter data={toRows(windDots)} dataKey="v" fill={DOT_BLUE} shape={dot(3.2, DOT_BLUE)} isAnimationActive={false} />
      </Panel>

      <Panel g={salGeom}>
        <CartesianGrid stroke={GRID} strokeWidth={1} />
        {xAxisFor(salGeom)}
        <YAxis
          type="number"
          scale="log"
          domain={salDomain}
          ticks={salTicks}
          interval={0}
          allowDataOverflow
          tick={powerTick([1e-5, 1])}
          tickLine={false}
          axisLine={false}
          tickSize={0}
          tickMargin={0}
          width={PLOT_LEFT}
        />
        {salBlocks.map((block, i) => (
          <Area
            key={`blk${i}`}
            data={block.map(([t, lo, hi]) => ({ t, r: [lo, hi] }))}
            dataKey="r"
            type="linear"
            stroke={CYAN}
            strokeWidth={1.2}
            fill={CYAN}
            fillOpacity={1}
            dot={false}
            isAnimationActive={false}
          />
        ))}
        <Line data={spikeRows} dataKey="v" type="linear" stroke={CYAN} strokeWidth={1.6} dot={false} connectNulls={false} isAnimationActive={false} />
        <Scatter data={toRows(salDots)} dataKey="v" fill={SAL_DOT} shape={dot(3.2, SAL_DOT)} isAnimationActive={false} />
      </Panel>

      <svg width={W} height={H} style={{ position: 'absolute', left: 0, top: 0, pointerEvents: 'none' }}>
        {[rainGeom, windGeom, salGeom].map((g, i) => (
          <rect
            key={`box${i}`}
            x={PLOT_LEFT}
            y={g.plotTop}
            width={PLOT_RIGHT - PLOT_LEFT}
            height={g.plotBottom - g.plotTop}
            fill="none"
            stroke={AXIS}
            strokeWidth={1.5}
          />
        ))}

        <text transform="translate(51,142) rotate(-90)" textAnchor="middle" fontFamily={FONT} fontSize={LABEL_FS} fill={TEXT}>
          rain rate [mm hr
          <tspan dy={-13} fontSize={22}>-1</tspan>
          <tspan dy={13}>]</tspan>
        </text>
        <text transform="translate(47,493) rotate(-90)" textAnchor="middle" fontFamily={FONT} fontSize={LABEL_FS} fill={TEXT}>
          U<tspan dy={9} fontSize={22}>10</tspan>
          <tspan dy={-9}> [m s</tspan>
          <tspan dy={-13} fontSize={22}>-1</tspan>
          <tspan dy={13}>]</tspan>
        </text>
        <text transform="translate(42,842) rotate(-90)" textAnchor="middle" fontFamily={FONT} fontSize={LABEL_FS} fill={TEXT}>
          ΔSalinity [psu]
        </text>

        <text x={745} y={142} fontFamily={NOTE_FONT} fontSize={32} fill="#ff0000">
          no precip
        </text>
        <line x1={814.5} x2={814.5} y1={165} y2={203} stroke="#ff0000" strokeWidth={5.5} />
        <polygon points="806.5,200 822.5,200 814.5,224" fill="#ff0000" />

        <text x={683} y={762} textAnchor="middle" fontFamily={NOTE_FONT} fontSize={52} fill="#000">
          SSP
        </text>
        <text x={588} y={838} fontFamily={NOTE_FONT} fontSize={52} fill="#000">
          S<tspan dy={15} fontSize={34}>1m</tspan>
          <tspan dy={-15}>-S</tspan>
          <tspan dy={12} fontSize={34}>5cm</tspan>
        </text>

        <text x={850} y={1053} textAnchor="middle" fontFamily={NOTE_FONT} fontSize={36} fill="#000">
          date in 2016
        </text>
      </svg>
    </div>
  );
}
